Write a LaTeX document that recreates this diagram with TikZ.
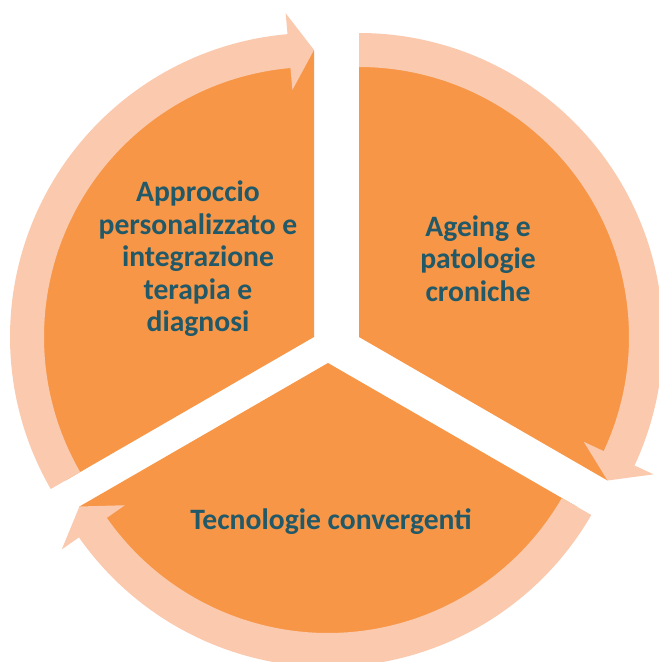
\documentclass[tikz,border=0pt]{standalone}
\usepackage{fontspec}
\setmainfont{Carlito}
\usetikzlibrary{calc}
\definecolor{segorange}{HTML}{F79646}
\definecolor{ringpeach}{HTML}{FAC9AE}
\definecolor{labelteal}{HTML}{215968}
\newcommand\cycarrow[3]{%
  \fill[ringpeach] ([shift={(#1)}]#2:270)
    arc[start angle=#2, end angle={#3+5}, radius=270]
    -- ([shift={(#1)}]{#3+5}:248)
    -- ([shift={(#1)}]#3:287)
    -- ([shift={(#1)}]{#3+5}:325)
    -- ([shift={(#1)}]{#3+5}:304)
    arc[start angle={#3+5}, end angle=#2, radius=304]
    -- cycle;}
\begin{document}
\begin{tikzpicture}[x=0.75pt,y=0.75pt,
  lbl/.style={text=labelteal, align=center, font=\fontsize{22.2}{24.4}\selectfont\bfseries}]
\useasboundingbox (0,0) rectangle (659,662);
\coordinate (L) at (314,325);
\coordinate (R) at (359,325);
\coordinate (B) at (328,299);
% segments
\fill[segorange] (L) -- ([shift={(L)}]90:287) arc[start angle=90, end angle=210, radius=287] -- cycle;
\fill[segorange] (R) -- ([shift={(R)}]-30:287) arc[start angle=-30, end angle=90, radius=287] -- cycle;
\fill[segorange] (B) -- ([shift={(B)}]210:287) arc[start angle=210, end angle=330, radius=287] -- cycle;
% ring arrows
\cycarrow{L}{210}{90}
\cycarrow{R}{90}{-30}
\cycarrow{B}{330}{210}
% labels
\node[lbl] (t1) at (198,403) {Approccio\\personalizzato e\\integrazione\\terapia e\\diagnosi};
\node[lbl] (t2) at (478,403.5) {Ageing e\\patologie\\croniche};
\node[lbl] (t3) at (331,140) {Tecnologie convergenti};
\end{tikzpicture}
\end{document}
